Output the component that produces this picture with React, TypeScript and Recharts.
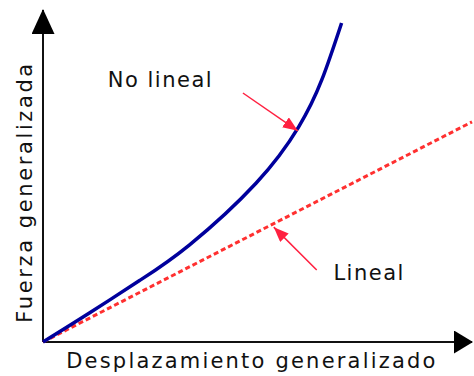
import { Line, LineChart, ReferenceDot, ReferenceLine, XAxis, YAxis } from "recharts";

// curva no lineal (unidades arbitrarias, 0..10)
const curveX = [0, 1.09, 2.25, 3.41, 4.97, 5.96, 6.5, 6.96];
const curveY = [0, 0.88, 1.85, 2.92, 4.79, 6.48, 7.9, 9.61];

// recta lineal
const lineX = [0, 10];
const lineY = [0, 6.63];

// ejes con flecha
const xAxisSeg = [{ x: 0, y: 0 }, { x: 10, y: 0 }];
const yAxisSeg = [{ x: 0, y: 0 }, { x: 0, y: 10 }];

// flechas de anotación: [desde, hasta]
const arrowNoLineal = [{ x: 4.66, y: 7.5 }, { x: 5.94, y: 6.36 }];
const arrowLineal = [{ x: 6.38, y: 2.17 }, { x: 5.38, y: 3.46 }];

const labels = [
  { text: "No lineal", x: 1.51, y: 7.68 },
  { text: "Lineal", x: 6.77, y: 1.87 },
];

const xTitle = { text: "Desplazamiento generalizado", x: 4.87, y: -0.78 };
const yTitle = { text: "Fuerza generalizada", x: -0.41, y: 4.52 };

const curveData = curveX.map((x, i) => ({ x, y: curveY[i] }));
const lineData = lineX.map((x, i) => ({ x, y: lineY[i] }));

const FONT = { fontFamily: "DejaVu Sans", fontSize: 21, fill: "#111" };
const RED = "#ff2040";

const RedArrow = (p: any) => (
  <line x1={p.x1} y1={p.y1} x2={p.x2} y2={p.y2} stroke={RED} strokeWidth={1.5} markerEnd="url(#redHead)" />
);

const AxisArrow = (head: string) => (p: any) => (
  <line x1={p.x1} y1={p.y1} x2={p.x2} y2={p.y2} stroke="#111" strokeWidth={2} markerEnd={`url(#${head})`} />
);

const TextDot = (text: string) => (p: any) => (
  <text x={p.cx} y={p.cy} letterSpacing={1.5} {...FONT}>
    {text}
  </text>
);

const XTitle = (p: any) => (
  <text x={p.cx} y={p.cy} textAnchor="middle" letterSpacing={2.2} {...FONT}>
    {xTitle.text}
  </text>
);

const YTitle = (p: any) => (
  <text
    x={p.cx}
    y={p.cy}
    textAnchor="middle"
    dominantBaseline="central"
    letterSpacing={2.6}
    transform={`rotate(-90 ${p.cx} ${p.cy})`}
    {...FONT}
  >
    {yTitle.text}
  </text>
);

export default function App() {
  return (
    <div style={{ position: "absolute", left: 0, top: 0, background: "#fff" }}>
      <svg width={0} height={0} style={{ position: "absolute" }}>
        <defs>
          <marker id="yHead" viewBox="0 0 25 23" refX={24} refY={11.5} markerWidth={25} markerHeight={23} markerUnits="userSpaceOnUse" orient="auto">
            <path d="M0,0 L25,11.5 L0,23 Z" fill="#000" />
          </marker>
          <marker id="xHead" viewBox="0 0 19 23" refX={18} refY={11.5} markerWidth={19} markerHeight={23} markerUnits="userSpaceOnUse" orient="auto">
            <path d="M0,0 L19,11.5 L0,23 Z" fill="#000" />
          </marker>
          <marker id="redHead" viewBox="0 0 15 12" refX={15} refY={6} markerWidth={15} markerHeight={12} markerUnits="userSpaceOnUse" orient="auto">
            <path d="M0,0 L15,6 L0,12 Z" fill={RED} />
          </marker>
        </defs>
      </svg>
      <LineChart width={474} height={376} margin={{ top: 10, right: 2, left: 43, bottom: 34 }}>
        <XAxis type="number" dataKey="x" domain={[0, 10]} hide />
        <YAxis type="number" dataKey="y" domain={[0, 10]} hide />
        <ReferenceLine segment={xAxisSeg} shape={AxisArrow("xHead")} ifOverflow="visible" />
        <ReferenceLine segment={yAxisSeg} shape={AxisArrow("yHead")} ifOverflow="visible" />
        <Line
          data={lineData}
          dataKey="y"
          type="linear"
          stroke="#ff3030"
          strokeWidth={3}
          strokeDasharray="5 3"
          dot={false}
          activeDot={false}
          isAnimationActive={false}
        />
        <Line
          data={curveData}
          dataKey="y"
          type="natural"
          stroke="#00009c"
          strokeWidth={3.5}
          dot={false}
          activeDot={false}
          isAnimationActive={false}
        />
        <ReferenceLine segment={arrowNoLineal} shape={RedArrow} ifOverflow="visible" />
        <ReferenceLine segment={arrowLineal} shape={RedArrow} ifOverflow="visible" />
        {labels.map((l) => (
          <ReferenceDot key={l.text} x={l.x} y={l.y} r={1} shape={TextDot(l.text)} ifOverflow="visible" />
        ))}
        <ReferenceDot x={xTitle.x} y={xTitle.y} r={1} shape={XTitle} ifOverflow="visible" />
        <ReferenceDot x={yTitle.x} y={yTitle.y} r={1} shape={YTitle} ifOverflow="visible" />
      </LineChart>
    </div>
  );
}
